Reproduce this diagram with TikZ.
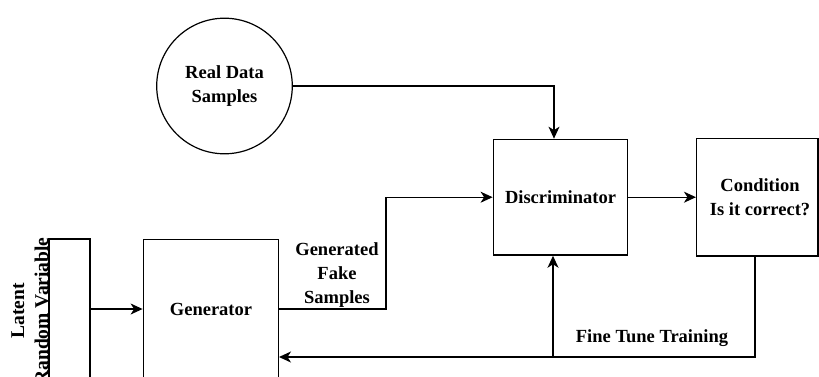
\documentclass[tikz,border=0pt]{standalone}
\usepackage{fontspec}
\setmainfont{Liberation Serif}
\usetikzlibrary{arrows.meta,calc}
\begin{document}
\begin{tikzpicture}[x=1pt,y=-1pt,
 box/.style={draw,line width=1.4pt,inner sep=0pt},
 txt/.style={font=\fontsize{18.5}{24}\selectfont\bfseries,align=center,inner sep=0pt},
 arr/.style={line width=1.3pt,-{Stealth[length=12pt,width=11pt,inset=3.5pt]}},
 ln/.style={line width=1.3pt}]
\useasboundingbox (0,0) rectangle (819,376);
\clip (0,0) rectangle (819,376);
% boxes
\node[box,minimum width=41pt,minimum height=200pt] (lat) at (69.5,339) {};
\node[box,minimum width=135pt,minimum height=200pt] (gen) at (210.8,339.3) {};
\node[box,txt,minimum width=134.4pt,minimum height=115.7pt] (disc) at (560.5,197.2) {Discriminator};
\node[box,minimum width=121.3pt,minimum height=117.7pt] (cond) at (757.3,197.2) {};
\node[box,circle,txt,line width=1.2pt,minimum size=135.6pt] (real) at (224.5,86) {Real Data\\Samples};
% texts
\node[txt] (gentext) at (211,309) {Generator};
\node[txt] (condtext) at (760,197) {Condition\\Is it correct?};
\node[txt] (fake) at (337,275) {Generated\\Fake\\Samples};
\node[txt] (fine) at (652,338) {Fine Tune Training};
\node[txt,font=\fontsize{19.5}{24}\selectfont\bfseries,rotate=90] (lattext) at (30,311) {Latent\\Random Variable};
% connectors
\coordinate (bend1) at (386,197.2);
\coordinate (fb) at (755,357);
\coordinate (fbj) at (553,357);
\draw[arr] (lat.east |- gentext) -- (gen.west |- gentext);
\draw[arr] (gen.east |- gentext) -| (bend1) -- (disc.west);
\draw[arr] (real.east) -| ($(disc.north)+(-6.5,0)$);
\draw[arr] (disc.east) -- (cond.west);
\draw[arr] (cond.south -| fb) -- (fb) -- (gen.east |- fb);
\draw[arr] (fbj) -- (disc.south -| fbj);
\end{tikzpicture}
\end{document}
